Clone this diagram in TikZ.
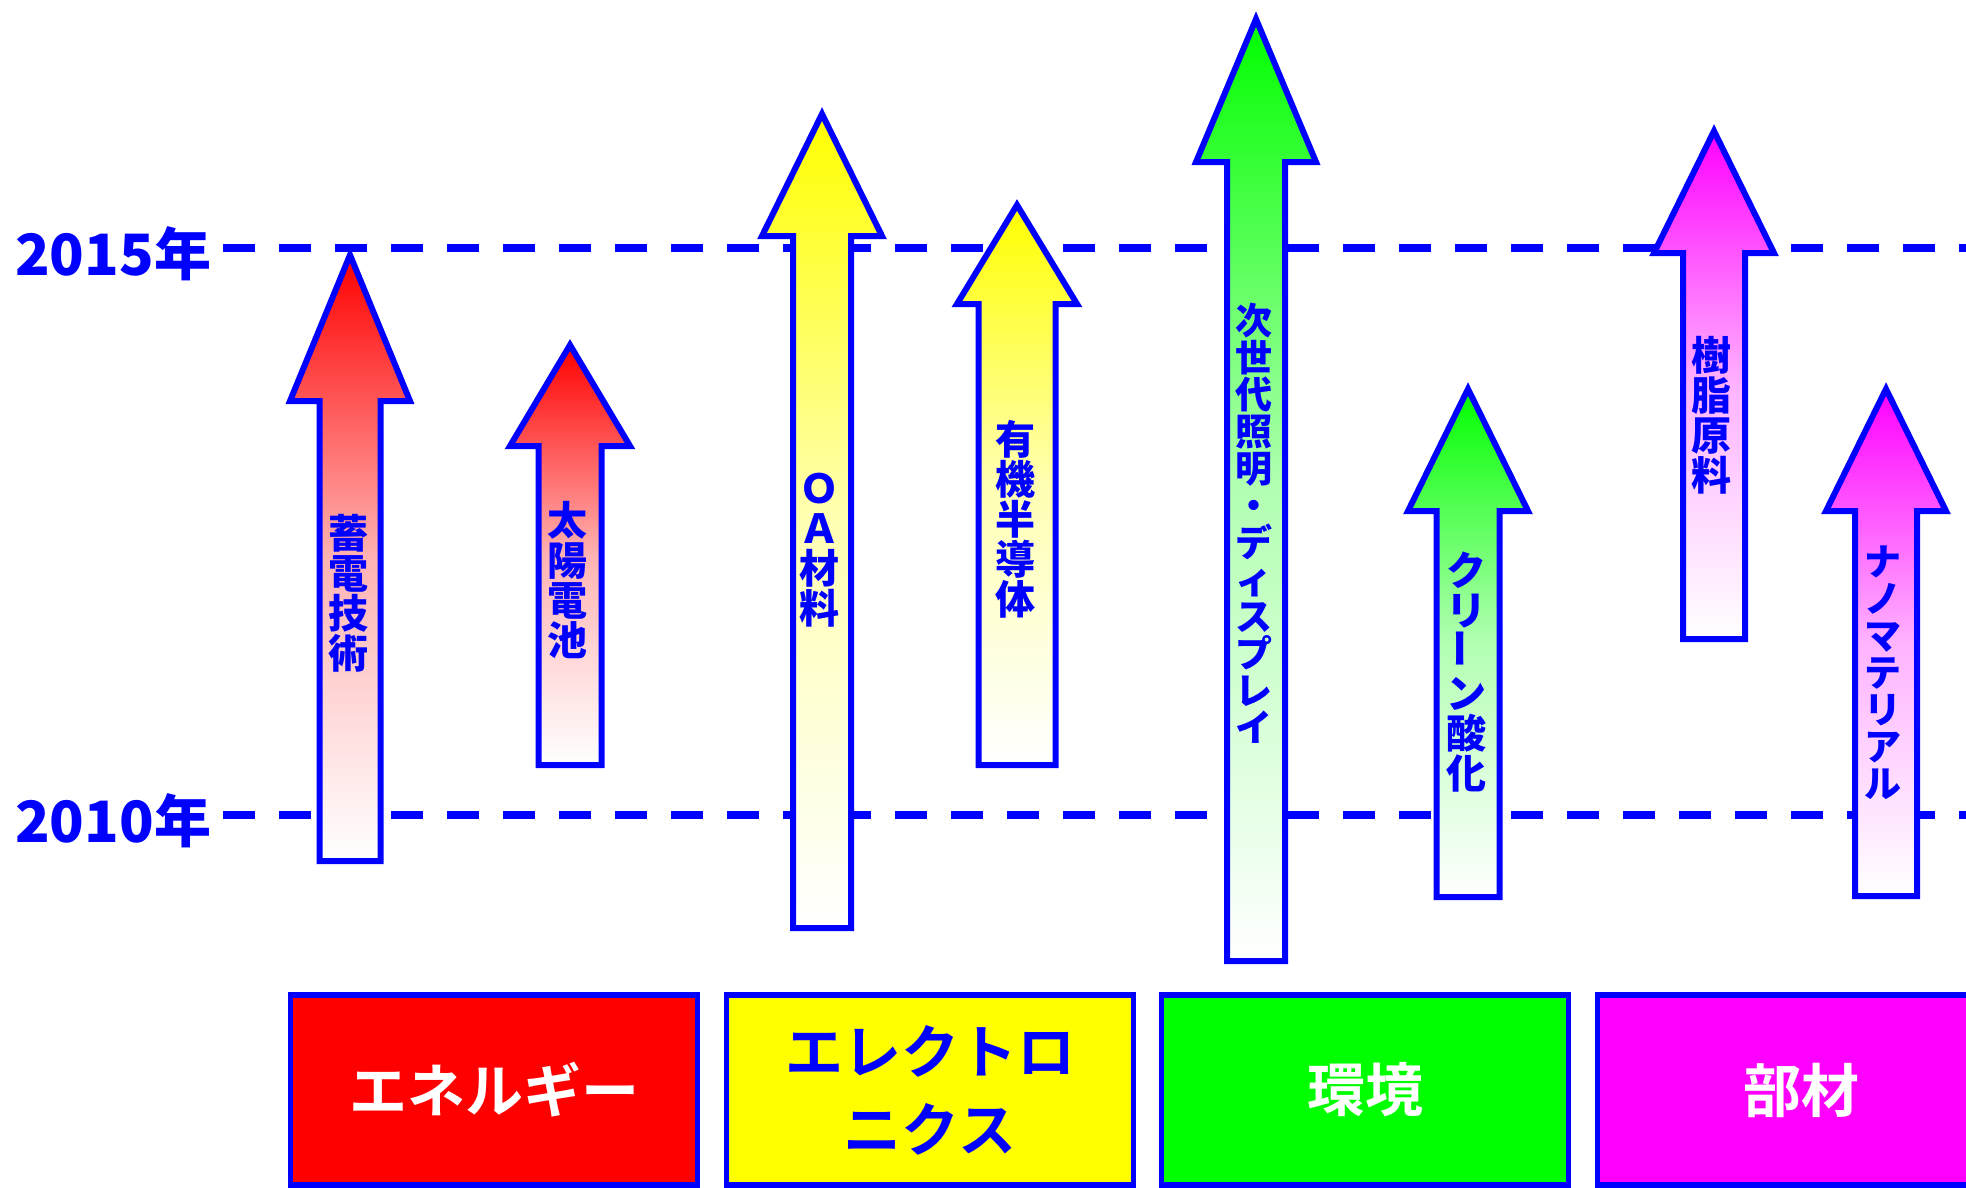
\documentclass[tikz,border=0pt]{standalone}
\usepackage{fontspec}
\usepackage{graphicx}
\newfontfamily\gothic{Noto Sans CJK JP Bold}
\newfontfamily\heavy{Noto Sans CJK JP Black}
\definecolor{fred}{RGB}{255,0,0}
\definecolor{fyellow}{RGB}{255,255,0}
\definecolor{fgreen}{RGB}{0,255,0}
\definecolor{fmagenta}{RGB}{255,0,255}
\definecolor{fblue}{RGB}{0,0,255}
\tikzset{
        guide/.style={draw=fblue, line width=8pt, dash pattern=on 32pt off 24pt},
        trend/.style={draw=fblue, line width=6pt},
        vtext/.style={text=fblue, font=\heavy\fontsize{40}{40}\selectfont, align=center, inner sep=0pt},
        year/.style={text=fblue, font=\heavy\fontsize{57}{57}\selectfont, inner sep=0pt, anchor=west},
        field/.style={draw=fblue, line width=5.5pt, minimum width=407pt, minimum height=190pt, text=white, align=center, font=\gothic\fontsize{58}{78}\selectfont}
    }
\newcommand{\trend}[6]{%
    \draw[trend, top color=#6, bottom color=white, middle color=#6!30]
        (#1,#2) -- (#1+60,#3) -- (#1+#5,#3) -- (#1+#5,#4) -- (#1-#5,#4) -- (#1-#5,#3) -- (#1-60,#3) -- cycle;}
\newcommand{\vbar}{\rotatebox{90}{ー}}

\begin{document}
\begin{tikzpicture}[x=1pt, y=-1pt]
            \useasboundingbox (0,0) rectangle (1966,1187);

            \node [year] (y15) at (15,254) {2015年};
            \node [year] (y10) at (15,821) {2010年};
            \coordinate (e15) at (1966,248);
            \coordinate (e10) at (1966,815);
            \draw [guide] (223,248) -- (e15);
            \draw [guide] (223,815) -- (e10);

            \trend{350}{255}{401}{861}{30.5}{fred}
            \trend{570}{345}{446}{765}{31.5}{fred}
            \trend{822}{114}{236}{928}{29}{fyellow}
            \trend{1017}{205}{304}{765}{38.5}{fyellow}
            \trend{1256}{19}{162}{961}{29}{fgreen}
            \trend{1468}{389}{511}{897}{31.5}{fgreen}
            \trend{1714}{131}{253}{639}{31}{fmagenta}
            \trend{1886}{389}{511}{896}{31}{fmagenta}

            \node [vtext] (t1) at (348,593) {蓄\\電\\技\\術};
            \node [vtext] (t2) at (567,580) {太\\陽\\電\\池};
            \node [vtext] (t3) at (819,550) {Ｏ\\Ａ\\材\\料};
            \node [vtext] (t4) at (1015,519) {有\\機\\半\\導\\体};
            \node [vtext, font=\heavy\fontsize{37}{37}\selectfont] (t5) at (1254,523) {次\\世\\代\\照\\明\\・\\デ\\ィ\\ス\\プ\\レ\\イ};
            \node [vtext] (t6) at (1466,672) {ク\\リ\\\vbar\\ン\\酸\\化};
            \node [vtext] (t7) at (1711,415) {樹\\脂\\原\\料};
            \node [vtext, font=\heavy\fontsize{37}{37}\selectfont] (t8) at (1883,673) {ナ\\ノ\\マ\\テ\\リ\\ア\\ル};

            \node [field, fill=fred] (energy) at (494,1090) {エネルギー};
            \node [field, fill=fyellow, text=fblue] (elec) at (930,1090) {エレクトロ\\ニクス};
            \node [field, fill=fgreen] (env) at (1365,1090) {環境};
            \node [field, fill=fmagenta] (mat) at (1801,1090) {部材};
        \end{tikzpicture}
\end{document}
